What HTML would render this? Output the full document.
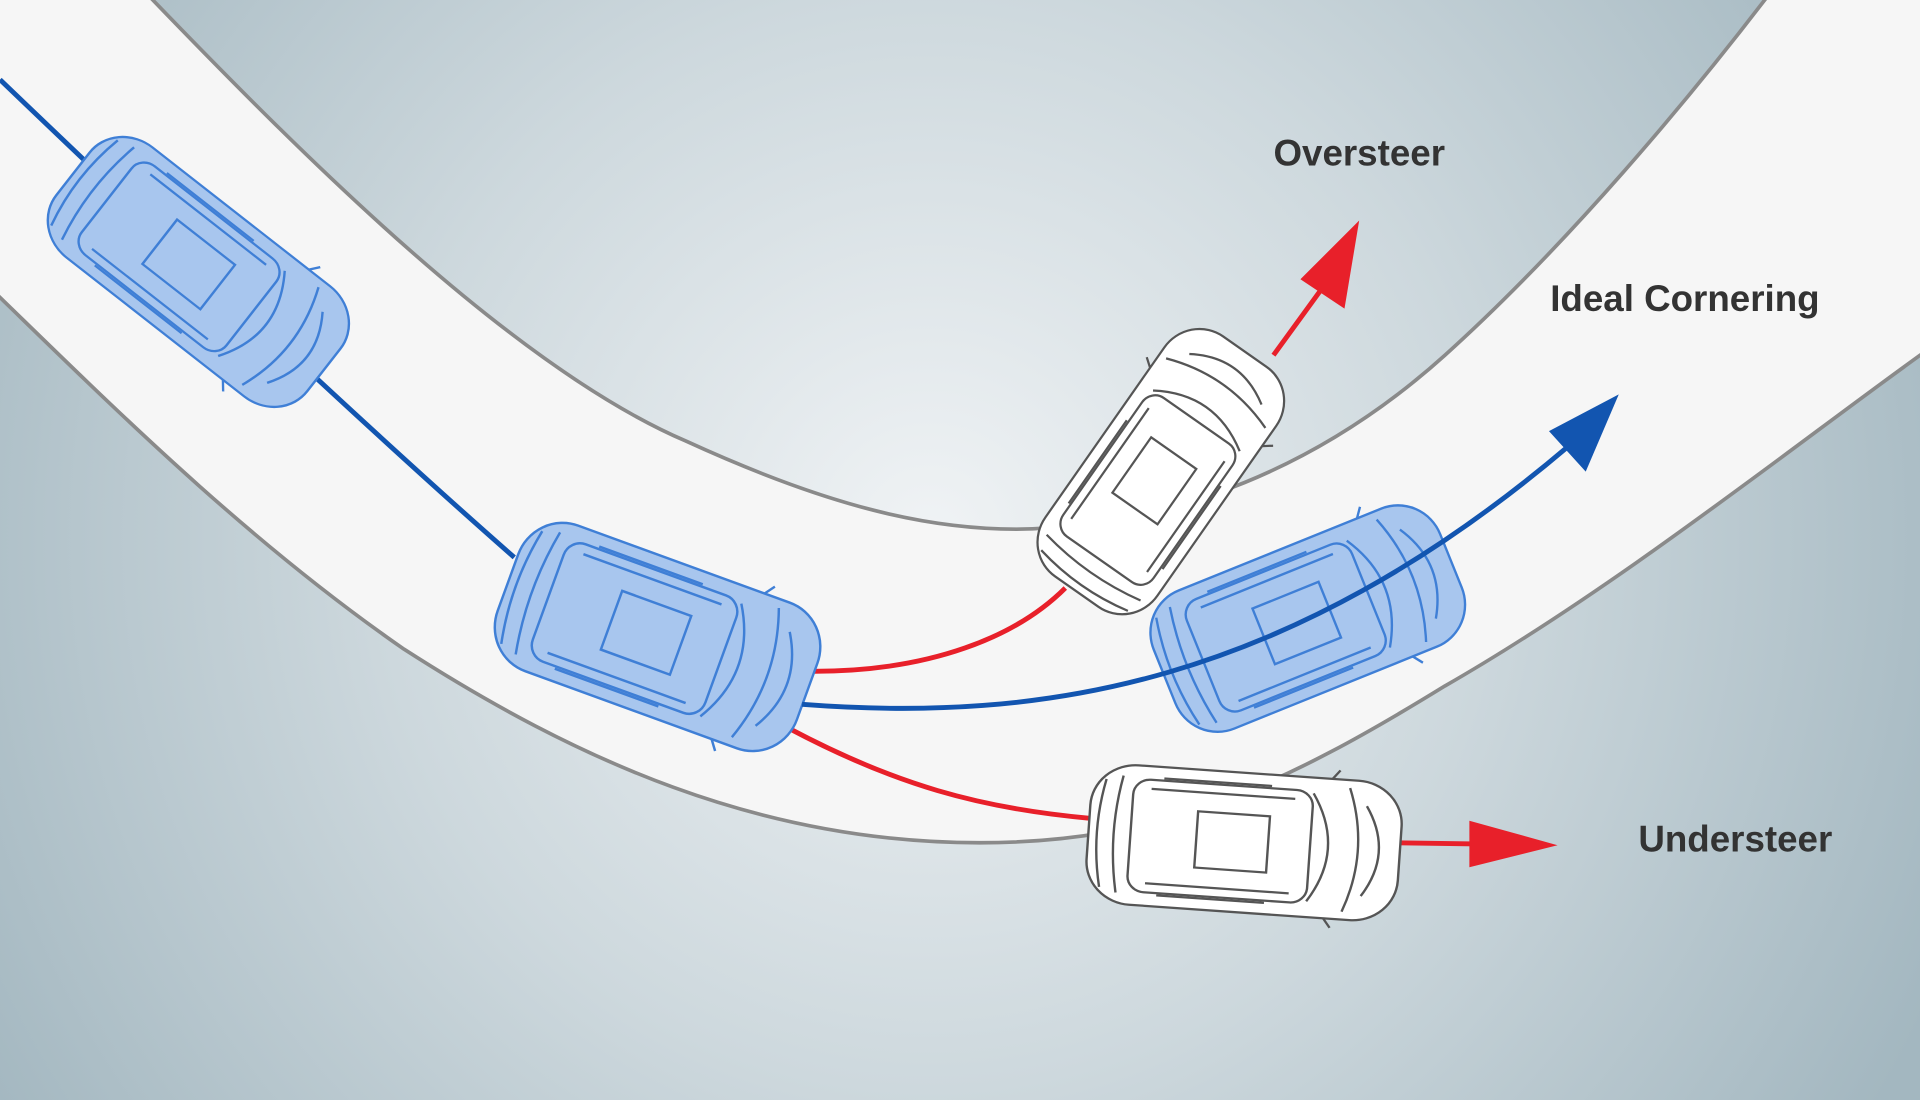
<!DOCTYPE html>
<html><head><meta charset="utf-8"><style>
html,body{margin:0;padding:0;width:1920px;height:1100px;overflow:hidden}
svg{display:block}
text{font-family:"Liberation Sans",sans-serif;font-weight:bold;fill:#333}
</style></head><body>
<svg width="1920" height="1100" viewBox="0 0 1568 898" preserveAspectRatio="none" xmlns="http://www.w3.org/2000/svg">
<defs>
<radialGradient id="bg" cx="760" cy="440" r="900" gradientUnits="userSpaceOnUse">
<stop offset="0" stop-color="#f0f3f5"/><stop offset="0.5" stop-color="#cdd8dd"/><stop offset="1" stop-color="#a3b7c0"/>
</radialGradient>
<g id="car" stroke-width="2">
<rect x="-130" y="-62" width="260" height="124" rx="38"/>
<g fill="none">
<path d="M-118,-48 Q-128,0 -118,48 M-104,-52 Q-114,0 -104,52"/>
<rect x="-95" y="-50" width="150" height="100" rx="14"/>
<path d="M55,-48 Q85,0 55,48 M85,-55 Q105,0 85,55 M100,-40 Q125,0 100,40"/>
<rect x="-40" y="-25" width="60" height="50"/>
<path d="M-80,-42 L40,-42 M-80,42 L40,42 M-70,-52 L20,-52 M-70,52 L20,52"/>
<path d="M70,-62 l6,-8 M70,62 l6,8"/>
</g>
</g>
</defs>
<rect width="1568" height="898" fill="url(#bg)"/>
<path d="M-5,-5 L120,-5 C250,130 420,300 560,360 C680,415 760,432 830,432 C960,430 1080,380 1180,290 C1280,200 1380,80 1445,-5 L1575,-5 L1575,285 C1470,360 1320,480 1180,560 C1050,640 950,688 800,688 C620,688 470,620 330,530 C200,440 90,330 -5,238 Z" fill="#f6f6f6"/>
<path d="M120,-5 C250,130 420,300 560,360 C680,415 760,432 830,432 C960,430 1080,380 1180,290 C1280,200 1380,80 1445,-5" fill="none" stroke="#8a8a8a" stroke-width="3"/>
<path d="M1575,285 C1470,360 1320,480 1180,560 C1050,640 950,688 800,688 C620,688 470,620 330,530 C200,440 90,330 -5,238" fill="none" stroke="#8a8a8a" stroke-width="3"/>
<path d="M0,65 C120,180 300,350 420,455" fill="none" stroke="#1255b0" stroke-width="4"/>
<path d="M665,548 C760,548 830,520 870,480" fill="none" stroke="#e8202a" stroke-width="4"/>
<path d="M1040,290 L1080,235" fill="none" stroke="#e8202a" stroke-width="4"/>
<polygon points="1110,180 1098,252 1062,228" fill="#e8202a"/>
<path d="M645,595 C730,640 800,660 890,668" fill="none" stroke="#e8202a" stroke-width="4"/>
<path d="M1140,688 L1205,689" fill="none" stroke="#e8202a" stroke-width="4"/>
<polygon points="1272,690 1200,708 1200,670" fill="#e8202a"/>
<use href="#car" fill="#a8c6ee" stroke="#3f7fd6" transform="translate(162,222) rotate(38) scale(1,0.92)"/>
<use href="#car" fill="#a8c6ee" stroke="#3f7fd6" transform="translate(537,520) rotate(20) scale(1,1.02)"/>
<use href="#car" fill="#ffffff" stroke="#555" transform="translate(948,385) rotate(-55) scale(0.92,0.9)"/>
<use href="#car" fill="#a8c6ee" stroke="#3f7fd6" transform="translate(1068,505) rotate(-22) scale(0.97,0.98)"/>
<use href="#car" fill="#ffffff" stroke="#555" transform="translate(1016,688) rotate(4) scale(0.98,0.92)"/>
<path d="M655,575 C850,590 1050,560 1280,365" fill="none" stroke="#1255b0" stroke-width="4"/>
<polygon points="1322,322 1295,385 1265,352" fill="#1255b0"/>
<text x="1040" y="135" font-size="30">Oversteer</text>
<text x="1266" y="254" font-size="30">Ideal Cornering</text>
<text x="1338" y="695" font-size="30">Understeer</text>
</svg>
</body></html>
